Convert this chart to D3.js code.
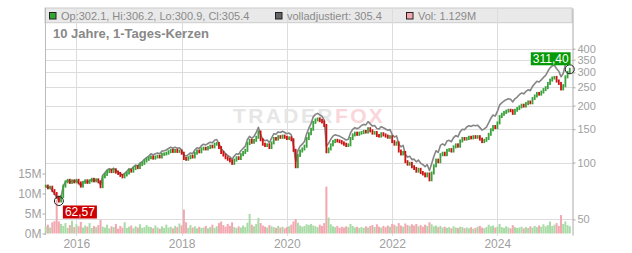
<!DOCTYPE html>
<html>
<head>
<meta charset="utf-8">
<script src="https://cdn.jsdelivr.net/npm/d3@7"></script>
<style>
  body { margin: 0; background: #fff; }
  svg { display: block; font-family: "Liberation Sans", Arial, sans-serif; }
</style>
</head>
<body>
<svg id="chart" width="632" height="253"></svg>
<script>
// half-monthly closes, from early June 2015
const startDate = new Date(2015, 5, 3);
const stepDays = 15.22;

const closes = [
  75, 73.5, 74, 71, 68.5, 65.5, 62.57, 66, 75, 79, 80.5, 78.5, 80, 79, 80.5, 78, 75, 78.5, 80, 78.5, 80, 81.5, 80, 81,
  79, 74.5, 84, 86.5, 89.5, 91, 89.5, 91.5, 89, 87.5, 85.5, 84, 86, 88, 91, 90, 93, 95, 94, 97.5, 99, 102, 104, 106,
  107, 105.5, 107, 108, 107, 110.5, 111, 112, 114, 116, 114.5, 116, 114.5, 115, 112, 105, 104, 106, 108, 107, 112, 115, 114, 118,
  119, 118, 120, 122, 121, 125, 126, 120, 113, 109.5, 106, 104, 102, 99, 103, 106, 105, 110, 113, 116, 126, 131, 128, 131,
  136, 145, 132, 125, 123, 124, 120, 127, 134, 133, 137, 136, 138, 136, 134, 135, 132, 116, 95, 109, 115, 118, 122, 134,
  142, 150, 163, 168, 170, 167, 164, 157, 114, 118, 124, 129, 131, 130, 129, 127, 125, 123, 124, 134, 140, 143, 141, 143,
  144, 146, 145, 151, 147, 143, 144, 139, 138, 142, 140, 138, 136, 137, 129, 125, 127, 115, 111, 113, 101, 98, 99, 95,
  93, 90, 92, 88.5, 87, 85, 87, 81, 88, 96, 103, 101, 110, 112, 110, 116, 117, 115, 121, 124, 122, 130, 134, 133,
  134, 136, 135, 137, 136, 137, 133, 129, 131, 134, 141, 149, 155, 153, 162, 175, 180, 184, 187, 189, 188, 182, 189, 193,
  197, 201, 199, 205, 209, 207, 218, 225, 232, 230, 236, 243, 249, 262, 273, 280, 282, 270, 262, 245, 255, 284, 300, 311.4
];

// volladjustiert (grey line)
const adjusted = [
  75, 73.5, 74, 71, 68.5, 65.5, 63, 66, 75, 79, 80.5, 78.5, 80, 79, 80.5, 78, 75, 78.5, 80, 78.5, 80, 81.5, 80, 81,
  80.6, 76, 85.7, 88.2, 91.3, 92.8, 91.3, 93.3, 90.8, 89.3, 87.2, 85.7, 87.7, 89.8, 92.8, 91.8, 94.9, 96.9, 95.9, 99.5, 101, 104, 106.1, 108.1,
  111.3, 109.7, 111.3, 112.3, 111.3, 114.9, 115.4, 116.5, 118.6, 120.6, 119.1, 120.6, 119.1, 119.6, 116.5, 109.2, 108.2, 110.2, 112.3, 111.3, 116.5, 119.6, 118.6, 122.7,
  125, 123.9, 126, 128.1, 127.1, 131.3, 132.3, 126, 118.7, 115, 111.3, 109.2, 107.1, 104, 108.2, 111.3, 110.3, 115.5, 118.7, 121.8, 132.3, 137.6, 134.4, 137.6,
  144.2, 153.7, 139.9, 132.5, 130.4, 131.4, 127.2, 134.6, 142, 141, 145.2, 144.2, 146.3, 144.2, 142, 143.1, 139.9, 123, 100.7, 115.5, 121.9, 125.1, 129.3, 142,
  151.9, 160.5, 174.4, 179.8, 181.9, 178.7, 175.5, 168, 122, 126.3, 132.7, 138, 140.2, 139.1, 138, 135.9, 133.8, 131.6, 132.7, 143.4, 149.8, 153, 150.9, 153,
  157, 159.1, 158.1, 164.6, 160.2, 155.9, 157, 151.5, 150.4, 154.8, 152.6, 150.4, 148.2, 149.3, 140.6, 136.3, 138.4, 125.4, 121, 123.2, 110.1, 106.8, 107.9, 103.6,
  104.2, 100.8, 103, 99.1, 97.4, 95.2, 97.4, 90.7, 98.6, 107.5, 115.4, 113.1, 123.2, 125.4, 123.2, 129.9, 131, 128.8, 135.5, 138.9, 136.6, 145.6, 150.1, 149,
  154.1, 156.4, 155.3, 157.6, 156.4, 157.6, 153, 148.4, 150.7, 154.1, 162.2, 171.4, 178.3, 176, 186.3, 201.3, 207, 211.6, 215.1, 217.4, 216.2, 209.3, 217.4, 222,
  228.5, 233.2, 230.8, 237.8, 242.4, 240.1, 252.9, 261, 269.1, 266.8, 273.8, 281.9, 288.8, 303.9, 316.7, 324.8, 327.1, 313.2, 303.9, 284.2, 295.8, 329.4, 348, 361.2
];

// volume in millions
const volumes = [
  1.8, 2.2, 1.5, 2.8, 3.1, 8.4, 3.0, 2.4, 1.9, 2.6, 1.4, 2.1, 3.2, 1.6, 2.3, 1.8, 2.9, 1.5, 2.0, 1.7, 2.6, 1.4, 1.9, 1.6,
  2.1, 3.4, 1.7, 1.5, 2.2, 1.3, 1.8, 1.6, 2.4, 1.2, 1.9, 1.5, 2.8, 1.4, 1.7, 2.0, 1.3, 1.8, 1.5, 2.3, 1.4, 1.6, 2.1, 1.7,
  1.6, 1.3, 2.0, 1.5, 1.2, 1.8, 1.4, 2.2, 1.5, 1.7, 1.3, 1.9, 1.6, 2.5, 2.0, 6.0, 2.8, 1.4, 2.1, 1.5, 1.8, 1.3, 1.7, 1.4,
  1.5, 1.9, 1.3, 1.6, 2.2, 1.4, 1.8, 2.6, 3.0, 2.1, 1.7, 2.4, 1.9, 2.8, 1.6, 1.4, 1.8, 1.5, 2.0, 1.6, 2.7, 4.9, 2.2, 1.8,
  2.4, 3.9, 2.6, 2.0, 1.7, 1.5, 2.1, 1.8, 1.6, 1.4, 1.9, 1.5, 1.7, 1.3, 1.6, 1.8, 2.2, 3.0, 3.6, 2.7, 2.0, 1.7, 1.9, 2.3,
  2.1, 2.4, 2.0, 1.8, 1.6, 2.2, 1.9, 2.6, 11.7, 4.0, 2.3, 1.8, 1.6, 1.9, 1.4, 1.7, 1.5, 1.8, 1.6, 2.4, 1.9, 1.5, 1.7, 1.4,
  1.6, 1.4, 1.8, 1.5, 1.9, 2.1, 1.6, 2.3, 1.7, 1.5, 1.9, 1.6, 2.0, 1.7, 2.4, 2.2, 1.8, 2.6, 2.0, 1.7, 2.5, 2.1, 1.9, 2.3,
  2.0, 2.4, 1.8, 2.1, 1.7, 2.2, 1.9, 2.8, 2.3, 1.8, 2.0, 1.6, 1.9, 1.5, 1.7, 1.4, 1.6, 1.3, 1.8, 1.5, 1.4, 1.7, 1.6, 1.3,
  1.5, 1.3, 1.6, 1.2, 1.4, 1.7, 1.9, 1.5, 1.3, 1.6, 2.2, 1.8, 2.0, 1.5, 1.7, 2.4, 1.6, 1.4, 1.8, 1.5, 1.3, 2.1, 1.6, 1.4,
  1.5, 1.7, 1.3, 1.6, 1.4, 1.8, 1.5, 1.9, 1.6, 2.0, 1.7, 2.3, 1.8, 2.1, 3.0, 1.9, 2.2, 2.6, 1.9, 4.6, 2.4, 3.0, 2.1, 1.8
];

const priceTicks = [50, 100, 150, 200, 250, 300, 350, 400];
const volTicks = [0, 5, 10, 15];
const legendItems = [
  { text: 'Op:302.1, Hi:306.2, Lo:300.9, Cl:305.4', color: '#33a533' },
  { text: 'volladjustiert: 305.4', color: '#666666' },
  { text: 'Vol: 1.129M', color: '#f2a7b1' }
];
const title = '10 Jahre, 1-Tages-Kerzen';

const svg = d3.select('#chart');
const plotLeft = 45, plotRight = 572, plotTop = 8, plotBottom = 235;

const data = closes.map(function(c, i) {
  return {
    date: new Date(startDate.getTime() + i * stepDays * 864e5),
    open: i === 0 ? c : closes[i - 1],
    close: c,
    adj: adjusted[i],
    vol: volumes[i]
  };
});

const x = d3.scaleTime()
  .domain([new Date(2015, 4, 29), new Date(2025, 5, 3)])
  .range([plotLeft, plotRight]);
const y = d3.scaleLog().domain([41.35, 657]).range([plotBottom, plotTop]);
const yVol = d3.scaleLinear().domain([0, 50]).range([233.5, 33.5]);

// legend bar
svg.append('rect')
  .attr('x', plotLeft).attr('y', plotTop).attr('width', plotRight - plotLeft).attr('height', 14.7)
  .attr('fill', '#e9e9e9').attr('stroke', '#cccccc').attr('stroke-width', 1);

// grid
const yearTicks = x.ticks(d3.timeYear.every(2));
svg.append('g').selectAll('line').data(yearTicks).enter().append('line')
  .attr('x1', d => Math.round(x(d)) + 0.5).attr('x2', d => Math.round(x(d)) + 0.5)
  .attr('y1', plotTop).attr('y2', 236)
  .attr('stroke', '#dcdcdc').attr('stroke-width', 1);
svg.append('g').selectAll('line').data(priceTicks).enter().append('line')
  .attr('x1', plotLeft).attr('x2', plotRight)
  .attr('y1', d => Math.round(y(d)) + 0.5).attr('y2', d => Math.round(y(d)) + 0.5)
  .attr('stroke', '#dcdcdc').attr('stroke-width', 1);

// left frame
svg.append('line').attr('x1', plotLeft + 0.5).attr('x2', plotLeft + 0.5).attr('y1', plotTop).attr('y2', plotBottom)
  .attr('stroke', '#bbbbbb');

// watermark
const wm = svg.append('text').attr('x', 233).attr('y', 123)
  .attr('font-size', 21).attr('font-weight', 'bold').attr('letter-spacing', 2.4);
wm.append('tspan').attr('fill', '#e6e6e6').text('TRADER');
wm.append('tspan').attr('fill', '#fad6db').text('FOX');

// volume bars
svg.append('g').selectAll('rect').data(data).enter().append('rect')
  .attr('x', d => x(d.date) - 1)
  .attr('width', 2)
  .attr('y', d => yVol(d.vol))
  .attr('height', d => yVol(0) - yVol(d.vol))
  .attr('fill', d => d.close >= d.open ? '#a9dba6' : '#f2a7b1');

// adjusted line
svg.append('path').datum(data)
  .attr('fill', 'none').attr('stroke', '#858585').attr('stroke-width', 1.6)
  .attr('stroke-linejoin', 'round')
  .attr('d', d3.line().x(d => x(d.date)).y(d => y(d.adj)));

// candles
svg.append('g').selectAll('rect').data(data).enter().append('rect')
  .attr('x', d => x(d.date) - 0.9)
  .attr('width', 1.8)
  .attr('y', d => y(Math.max(d.open, d.close)) - 1.5)
  .attr('height', d => Math.abs(y(d.open) - y(d.close)) + 3)
  .attr('fill', d => d.close >= d.open ? '#3ba23b' : '#cc1111');

// right price axis
const yAxis = d3.axisRight(y).tickValues(priceTicks).tickFormat(d3.format('d'))
  .tickSize(3).tickSizeOuter(0).tickPadding(2);
const gy = svg.append('g').attr('transform', 'translate(' + (plotRight + 0.5) + ',0)').call(yAxis);
gy.select('.domain').attr('stroke', '#aaaaaa');
gy.selectAll('line').attr('stroke', '#aaaaaa');
gy.selectAll('text').attr('fill', '#a0a0a0').attr('font-size', 11).attr('font-family', null);

// left volume axis
const vAxis = d3.axisLeft(yVol).tickValues(volTicks).tickFormat(d => d + 'M')
  .tickSize(3).tickSizeOuter(0).tickPadding(1);
const gv = svg.append('g').attr('transform', 'translate(' + (plotLeft + 0.5) + ',0)').call(vAxis);
gv.select('.domain').remove();
gv.selectAll('line').attr('stroke', '#aaaaaa');
gv.selectAll('text').attr('fill', '#a0a0a0').attr('font-size', 12).attr('font-family', null);

// bottom axis
const xAxis = d3.axisBottom(x).tickValues(yearTicks).tickFormat(d3.timeFormat('%Y'))
  .tickSize(0).tickPadding(4);
const gx = svg.append('g').attr('transform', 'translate(0,' + 235 + ')').call(xAxis);
gx.select('.domain').remove();
gx.selectAll('text').attr('fill', '#a0a0a0').attr('font-size', 12).attr('font-family', null);

// legend
const legendX = [49, 275, 406];
legendItems.forEach(function(item, i) {
  svg.append('rect').attr('x', legendX[i] + 0.5).attr('y', 12.5).attr('width', 6.5).attr('height', 6.5)
    .attr('fill', item.color).attr('stroke', '#222').attr('stroke-width', 1);
  svg.append('text').attr('x', legendX[i] + 12).attr('y', 19.5)
    .attr('font-size', 11).attr('fill', '#8a8a8a').text(item.text);
});

svg.append('text').attr('x', 53).attr('y', 37.5)
  .attr('font-size', 13).attr('font-weight', 'bold').attr('fill', '#888888').text(title);

// min / last markers
const fmt = d3.format(',.2f');
const de = v => fmt(v).replace('.', '#').replace(/,/g, '.').replace('#', ',');
const minD = data.reduce((a, b) => b.close < a.close ? b : a);
const lastD = data[data.length - 1];

function marker(d) {
  svg.append('circle').attr('cx', x(d.date)).attr('cy', y(d.close)).attr('r', 4.5)
    .attr('fill', 'none').attr('stroke', '#222').attr('stroke-width', 1);
}
marker(minD);
marker(lastD);

function tag(text, bx, by, fill) {
  const g = svg.append('g');
  const t = g.append('text').attr('x', bx + 2).attr('y', by + 10.5)
    .attr('font-size', 12).attr('fill', '#fff').text(text);
  const w = t.node().getComputedTextLength() + 4;
  g.insert('rect', 'text').attr('x', bx).attr('y', by).attr('width', w).attr('height', 13).attr('fill', fill);
  return w;
}
tag(de(minD.close), x(minD.date) + 4, y(minD.close) + 4.5, '#cc0000');
const lx = x(lastD.date), ly = y(lastD.close);
const wLast = 38;
tag(de(lastD.close), lx - wLast - 1, ly - 17, '#079a07');
</script>
</body>
</html>
